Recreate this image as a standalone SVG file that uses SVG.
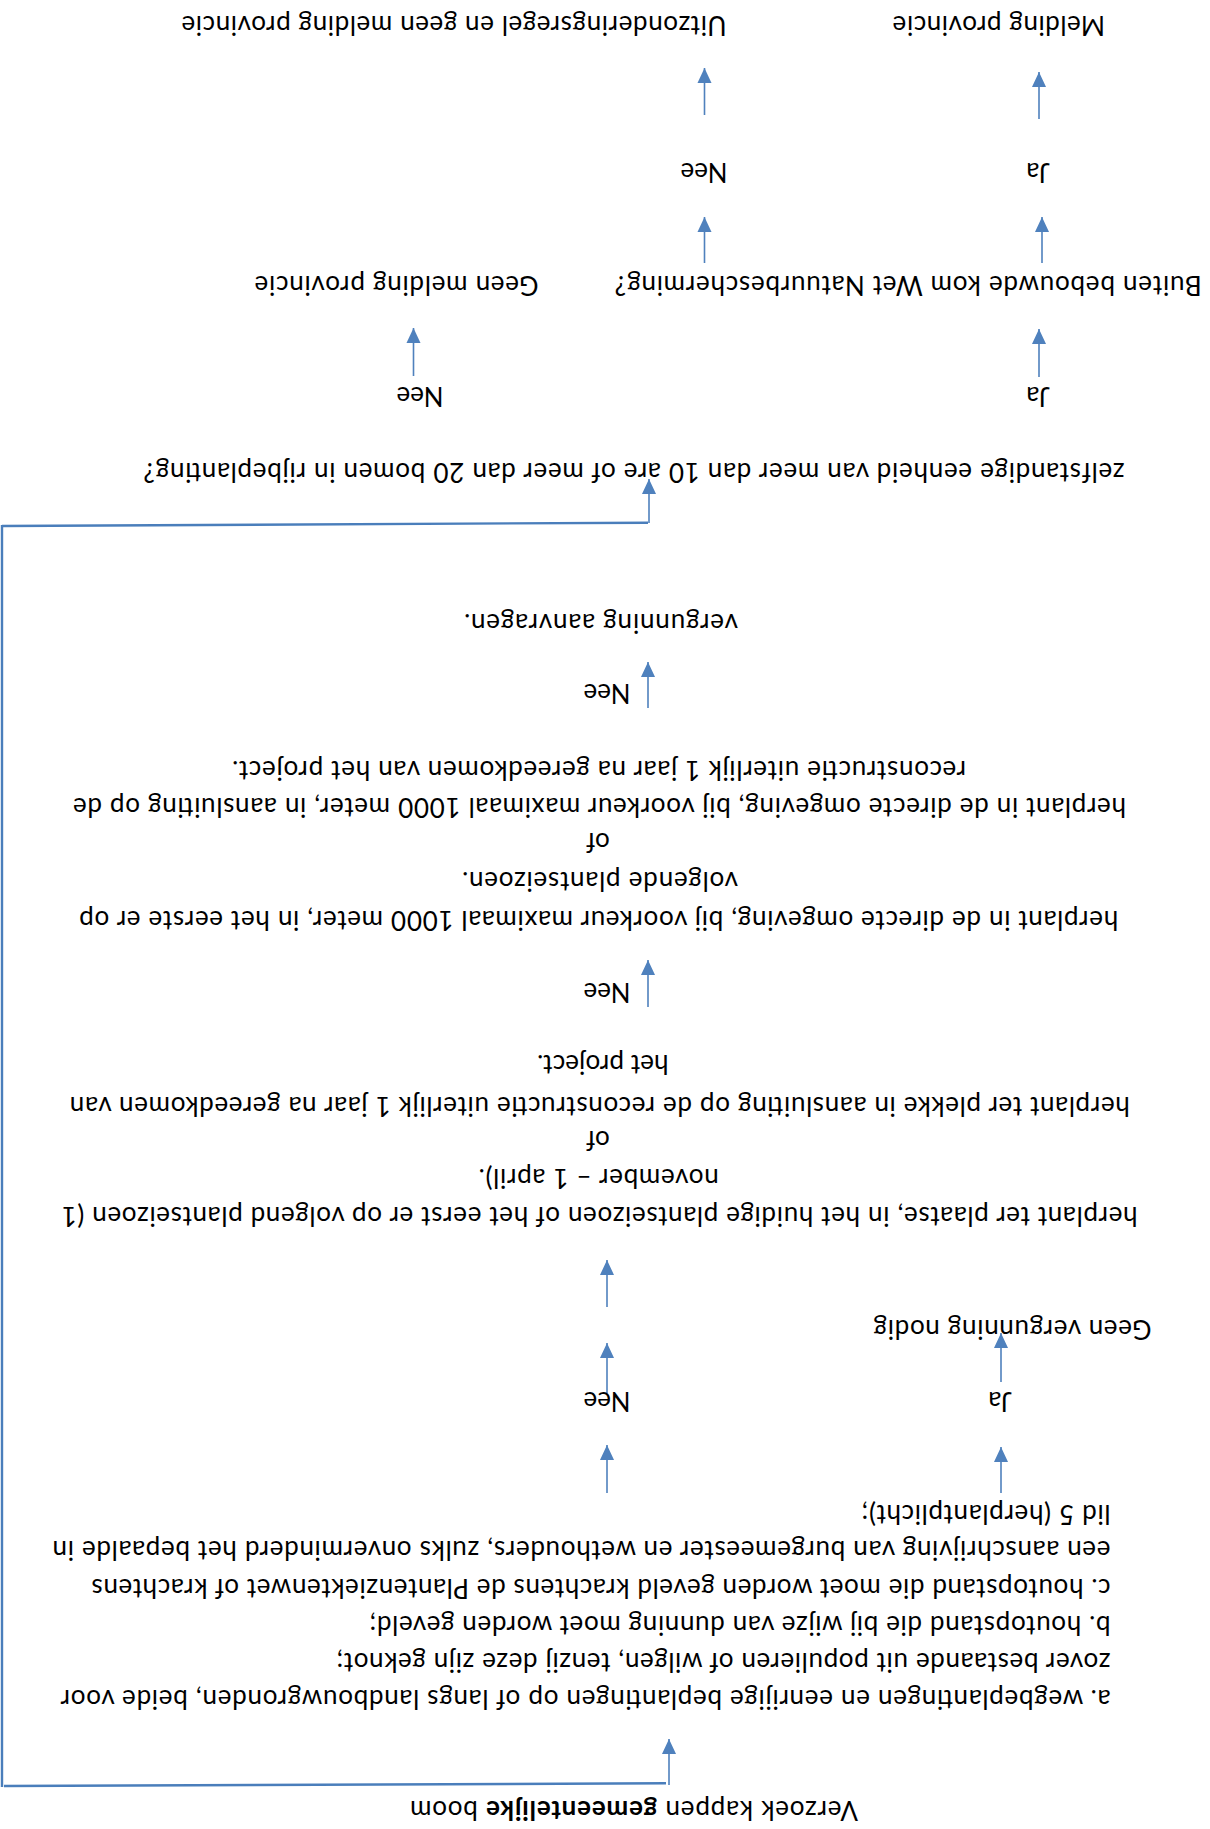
<svg xmlns="http://www.w3.org/2000/svg" width="1210" height="1829" viewBox="0 0 1210 1829">
<style>
text{font-family:Lato,"Open Sans","Liberation Sans",sans-serif;font-size:26px;fill:#000}
.c{text-anchor:middle}
.arr{stroke:#4f81bd;stroke-width:1.6;fill:none;marker-end:url(#ah)}
.loop{stroke:#4a7ebb;stroke-width:2.4;fill:none}
</style>
<defs>
<marker id="ah" markerUnits="userSpaceOnUse" markerWidth="15" markerHeight="16" viewBox="0 0 15 16" refX="15" refY="8" orient="auto">
<path d="M0,1 L15,8 L0,15 Z" fill="#4f81bd"/>
</marker>
</defs>
<rect width="1210" height="1829" fill="#fff"/>
<g transform="rotate(180 605 914.5)">
<g id="connectors">
<path class="loop" d="M544,45.7 L1206,43"/>
<path class="loop" d="M1208,42 L1208,1304"/>
<path class="loop" d="M1208,1303 L562,1306.3"/>
<line class="arr" x1="541" y1="44" x2="541" y2="90"/>
<line class="arr" x1="561" y1="1306" x2="561" y2="1350"/>
<line class="arr" x1="603" y1="336" x2="603" y2="384"/>
<line class="arr" x1="209" y1="336" x2="209" y2="382"/>
<line class="arr" x1="603" y1="436" x2="603" y2="486"/>
<line class="arr" x1="209" y1="447" x2="209" y2="496"/>
<line class="arr" x1="603" y1="522" x2="603" y2="569"/>
<line class="arr" x1="562" y1="822" x2="562" y2="869"/>
<line class="arr" x1="562" y1="1121" x2="562" y2="1167"/>
<line class="arr" x1="796.5" y1="1453" x2="796.5" y2="1501"/>
<line class="arr" x1="171" y1="1452" x2="171" y2="1500"/>
<line class="arr" x1="505.5" y1="1566" x2="505.5" y2="1612"/>
<line class="arr" x1="168" y1="1566" x2="168" y2="1612"/>
<line class="arr" x1="505.5" y1="1714" x2="505.5" y2="1761"/>
<line class="arr" x1="171" y1="1710" x2="171" y2="1757"/>
</g>
<g id="start"><text x="352" y="28" textLength="448">Verzoek kappen <tspan font-weight="bold">gemeentelijke</tspan> boom</text></g>
<g id="exceptions">
<text x="99.5" y="139" textLength="1050">a. wegbeplantingen en eenrijige beplantingen op of langs landbouwgronden, beide voor</text>
<text x="99.5" y="176" textLength="774">zover bestaande uit populieren of wilgen, tenzij deze zijn geknot;</text>
<text x="99.5" y="213" textLength="741">b. houtopstand die bij wijze van dunning moet worden geveld;</text>
<text x="99.5" y="250" textLength="1019">c. houtopstand die moet worden geveld krachtens de Plantenziektenwet of krachtens</text>
<text x="99.5" y="288" textLength="1058">een aanschrijving van burgemeester en wethouders, zulks onverminderd het bepaalde in</text>
<text x="99.5" y="324" textLength="249">lid 5 (herplantplicht);</text>
</g>
<g id="ja1"><text class="c" x="210" y="437">Ja</text></g>
<g id="nee1"><text class="c" x="603" y="437">Nee</text></g>
<g id="geen-vergunning"><text x="58.5" y="509" textLength="278">Geen vergunning nodig</text></g>
<g id="herplant-plaatse">
<text x="72.4" y="622" textLength="1076">herplant ter plaatse, in het huidige plantseizoen of het eerst er op volgend plantseizoen (1</text>
<text x="491.3" y="660" textLength="240">november – 1 april).</text>
<text class="c" x="612" y="698">of</text>
<text x="80.2" y="732" textLength="1060">herplant ter plekke in aansluiting op de reconstructie uiterlijk 1 jaar na gereedkomen van</text>
<text x="541.5" y="774" textLength="131.5">het project.</text>
</g>
<g id="nee2"><text class="c" x="603" y="846">Nee</text></g>
<g id="herplant-omgeving">
<text x="91.8" y="918" textLength="1039">herplant in de directe omgeving, bij voorkeur maximaal 1000 meter, in het eerste er op</text>
<text x="472" y="957" textLength="276">volgende plantseizoen.</text>
<text class="c" x="612" y="996">of</text>
<text x="84" y="1031" textLength="1053">herplant in de directe omgeving, bij voorkeur maximaal 1000 meter, in aansluiting op de</text>
<text x="244" y="1068" textLength="734">reconstructie uiterlijk 1 jaar na gereedkomen van het project.</text>
</g>
<g id="nee3"><text class="c" x="603" y="1145">Nee</text></g>
<g id="vergunning-aanvragen"><text x="472" y="1215" textLength="274">vergunning aanvragen.</text></g>
<g id="zelfstandige"><text x="85.6" y="1366.5" textLength="981">zelfstandige eenheid van meer dan 10 are of meer dan 20 bomen in rijbeplanting?</text></g>
<g id="ja2"><text class="c" x="172" y="1442.5">Ja</text></g>
<g id="nee4"><text class="c" x="790" y="1442.5">Nee</text></g>
<g id="buiten"><text x="8.3" y="1553" textLength="587">Buiten bebouwde kom Wet Natuurbescherming?</text></g>
<g id="geen-melding"><text x="671.4" y="1553" textLength="284">Geen melding provincie</text></g>
<g id="ja3"><text class="c" x="172" y="1666.5">Ja</text></g>
<g id="nee5"><text class="c" x="506" y="1666.5">Nee</text></g>
<g id="melding"><text x="104.9" y="1813.5" textLength="212.5">Melding provincie</text></g>
<g id="uitzondering"><text x="483.6" y="1813" textLength="545">Uitzonderingsregel en geen melding provincie</text></g>
</g>
</svg>
